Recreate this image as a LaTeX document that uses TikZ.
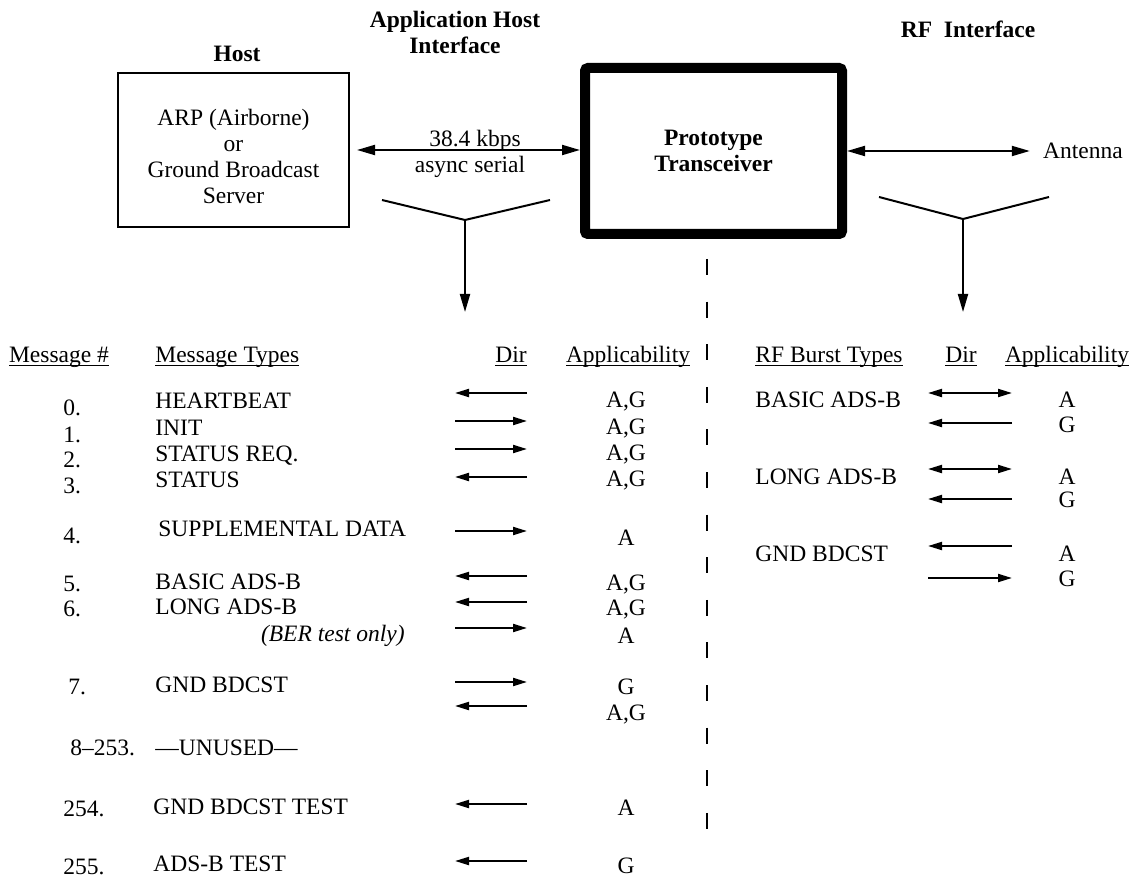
\documentclass[tikz,border=0pt]{standalone}
\usepackage{fontspec}
\setmainfont{Liberation Serif}
\usetikzlibrary{arrows.meta,positioning}
\newcommand{\hdline}[1]{\setbox0\hbox{#1}\rlap{\rule[-2.2pt]{\wd0}{0.7pt}}\box0}
\newcommand{\bodyfont}{\fontsize{11.75}{13}\selectfont}
\tikzset{
	block/.style    = {draw, line width=1pt, minimum width=115.5pt, minimum height=77pt},
	bigblock/.style = {draw, line width=5pt, rounded corners=1.5pt, minimum width=128.5pt, minimum height=83pt, align=center, font=\bodyfont\bfseries},
	title/.style    = {align=center, font=\bodyfont\bfseries, inner sep=0pt},
	txt/.style      = {anchor=base, inner sep=0pt},
	num/.style      = {anchor=base west, inner sep=0pt},
	msg/.style      = {anchor=base west, inner sep=0pt},
	app/.style      = {anchor=base, inner sep=0pt},
	hidden/.style   = {coordinate},
	dir/.style      = {-{Triangle[length=7pt,width=4pt]}, line width=1pt},
	twodir/.style   = {{Triangle[length=7pt,width=4pt]}-{Triangle[length=7pt,width=4pt]}, line width=1pt},
	link/.style     = {{Triangle[length=9pt,width=5pt]}-{Triangle[length=9pt,width=5pt]}, line width=1pt},
	down/.style     = {-{Triangle[length=9pt,width=5pt]}, line width=1pt},
	fork/.style     = {line width=1pt},
	sepline/.style  = {line width=1.25pt, dash pattern=on 8pt off 13.3pt},
}

\begin{document}
\begin{tikzpicture}[x=0.5pt, y=-0.5pt, font=\bodyfont]
	\useasboundingbox (0,0) rectangle (1135,877);

	% Draw the boxes and the titles
	\node[title] (hosttitle) at (237,54) {Host};
	\node[title] (apptitle) at (455,32) {Application Host\\Interface};
	\node[title] (rftitle) at (968,29) {RF\ \ Interface};
	\node[block] (host) at (233.5,150) {};
	\node[align=center, inner sep=0pt] (hosttext) at (233.5,156) {ARP (Airborne)\\or\\Ground Broadcast\\Server};
	\node[bigblock] (proto) at (713.5,151) {Prototype\\Transceiver};
	\node[txt] (antenna) at (1083,159) {Antenna};
	\node[txt] (rate) at (475,147) {38.4 kbps};
	\node[txt] (serial) at (470,173) {async serial};

	% Forks down to the two tables
	\node[hidden] (lfork) at (465,220) {};
	\node[hidden] (lforkl) at (382,200) {};
	\node[hidden] (lforkr) at (550,200) {};
	\node[hidden] (lfoot) at (465,312) {};
	\node[hidden] (rfork) at (963,219) {};
	\node[hidden] (rforkl) at (879,197) {};
	\node[hidden] (rforkr) at (1049,197) {};
	\node[hidden] (rfoot) at (963,312) {};
	\node[hidden] (septop) at (707,259) {};
	\node[hidden] (sepbot) at (707,829) {};

	% Connect everything together
	\draw[link, shorten <=3.5pt] (host.east) -- (host.east -| proto.west);
	\draw[link, shorten >=6.5pt] (proto.east) -- (proto.east -| antenna.west);
	\draw[fork] (lforkl) -- (lfork) -- (lforkr);
	\draw[down] (lfork) -- (lfoot);
	\draw[fork] (rforkl) -- (rfork) -- (rforkr);
	\draw[down] (rfork) -- (rfoot);
	\draw[sepline] (septop) -- (sepbot);

	% Table headers
	\node[txt] (hnum) at (59,362) {\hdline{Message \#}};
	\node[msg] (htype) at (155,362) {\hdline{Message Types}};
	\node[txt] (hdir) at (511,362) {\hdline{Dir}};
	\node[txt] (happ) at (628,362) {\hdline{Applicability}};
	\node[msg] (hburst) at (755,362) {\hdline{RF Burst Types}};
	\node[txt] (hrdir) at (961,362) {\hdline{Dir}};
	\node[txt] (hrapp) at (1067,362) {\hdline{Applicability}};

	% Host interface messages
	\node[num] (num0) at (63,415) {0.};
	\node[msg] (msg0) at (155,408) {HEARTBEAT};
	\node[app] (app0) at (626,407) {A,G};
	\node[hidden] (dir0l) at (455,393) {};
	\node[hidden] (dir0r) at (527,393) {};
	\node[num] (num1) at (63,442) {1.};
	\node[msg] (msg1) at (155,435) {INIT};
	\node[app] (app1) at (626,434) {A,G};
	\node[hidden] (dir1l) at (455,421) {};
	\node[hidden] (dir1r) at (527,421) {};
	\node[num] (num2) at (63,467) {2.};
	\node[msg] (msg2) at (155,461) {STATUS REQ.};
	\node[app] (app2) at (626,460) {A,G};
	\node[hidden] (dir2l) at (455,449) {};
	\node[hidden] (dir2r) at (527,449) {};
	\node[num] (num3) at (63,493) {3.};
	\node[msg] (msg3) at (155,487) {STATUS};
	\node[app] (app3) at (626,486) {A,G};
	\node[hidden] (dir3l) at (455,477) {};
	\node[hidden] (dir3r) at (527,477) {};
	\node[num] (num4) at (63,543) {4.};
	\node[msg] (msg4) at (158,536) {SUPPLEMENTAL DATA};
	\node[app] (app4) at (626,545) {A};
	\node[hidden] (dir4l) at (455,531) {};
	\node[hidden] (dir4r) at (527,531) {};
	\node[num] (num5) at (63,591) {5.};
	\node[msg] (msg5) at (155,589) {BASIC ADS-B};
	\node[app] (app5) at (626,590) {A,G};
	\node[hidden] (dir5l) at (455,576) {};
	\node[hidden] (dir5r) at (527,576) {};
	\node[num] (num6) at (63,616) {6.};
	\node[msg] (msg6) at (155,614) {LONG ADS-B};
	\node[app] (app6) at (626,615) {A,G};
	\node[hidden] (dir6l) at (455,602) {};
	\node[hidden] (dir6r) at (527,602) {};
	\node[anchor=base east, inner sep=0pt] (msgber) at (405,641) {\itshape (BER test only)};
	\node[app] (appber) at (626,643) {A};
	\node[hidden] (dirberl) at (455,628) {};
	\node[hidden] (dirberr) at (527,628) {};
	\node[num] (num7) at (68,694) {7.};
	\node[msg] (msg7) at (155,692) {GND BDCST};
	\node[app] (app7) at (626,694) {G};
	\node[hidden] (dir7l) at (455,682) {};
	\node[hidden] (dir7r) at (527,682) {};
	\node[app] (app7b) at (626,720) {A,G};
	\node[hidden] (dir7bl) at (455,706) {};
	\node[hidden] (dir7br) at (527,706) {};
	\node[num] (num8) at (70,755) {8–253.};
	\node[msg] (msg8) at (155,755) {—UNUSED—};
	\node[num] (num254) at (63,816) {254.};
	\node[msg] (msg254) at (153,814) {GND BDCST TEST};
	\node[app] (app254) at (626,815) {A};
	\node[hidden] (dir254l) at (455,804) {};
	\node[hidden] (dir254r) at (527,804) {};
	\node[num] (num255) at (63,874) {255.};
	\node[msg] (msg255) at (153,871) {ADS-B TEST};
	\node[app] (app255) at (626,873) {G};
	\node[hidden] (dir255l) at (455,861) {};
	\node[hidden] (dir255r) at (527,861) {};

	\draw[dir] (dir0r) -- (dir0l);
	\draw[dir] (dir1l) -- (dir1r);
	\draw[dir] (dir2l) -- (dir2r);
	\draw[dir] (dir3r) -- (dir3l);
	\draw[dir] (dir4l) -- (dir4r);
	\draw[dir] (dir5r) -- (dir5l);
	\draw[dir] (dir6r) -- (dir6l);
	\draw[dir] (dirberl) -- (dirberr);
	\draw[dir] (dir7l) -- (dir7r);
	\draw[dir] (dir7br) -- (dir7bl);
	\draw[dir] (dir254r) -- (dir254l);
	\draw[dir] (dir255r) -- (dir255l);

	% RF bursts
	\node[msg] (burst1) at (755,407) {BASIC ADS-B};
	\node[app] (rapp1a) at (1067,407) {A};
	\node[app] (rapp1g) at (1067,432) {G};
	\node[hidden] (rdir1al) at (928,393) {};
	\node[hidden] (rdir1ar) at (1012,393) {};
	\node[hidden] (rdir1gl) at (928,423) {};
	\node[hidden] (rdir1gr) at (1012,423) {};
	\node[msg] (burst2) at (755,484) {LONG ADS-B};
	\node[app] (rapp2a) at (1067,484) {A};
	\node[app] (rapp2g) at (1067,507) {G};
	\node[hidden] (rdir2al) at (928,469) {};
	\node[hidden] (rdir2ar) at (1012,469) {};
	\node[hidden] (rdir2gl) at (928,499) {};
	\node[hidden] (rdir2gr) at (1012,499) {};
	\node[msg] (burst3) at (755,561) {GND BDCST};
	\node[app] (rapp3a) at (1067,561) {A};
	\node[app] (rapp3g) at (1067,586) {G};
	\node[hidden] (rdir3al) at (928,546) {};
	\node[hidden] (rdir3ar) at (1012,546) {};
	\node[hidden] (rdir3gl) at (928,578) {};
	\node[hidden] (rdir3gr) at (1012,578) {};

	\draw[twodir] (rdir1al) -- (rdir1ar);
	\draw[dir] (rdir1gr) -- (rdir1gl);
	\draw[twodir] (rdir2al) -- (rdir2ar);
	\draw[dir] (rdir2gr) -- (rdir2gl);
	\draw[dir] (rdir3ar) -- (rdir3al);
	\draw[dir] (rdir3gl) -- (rdir3gr);

\end{tikzpicture}
\end{document}
